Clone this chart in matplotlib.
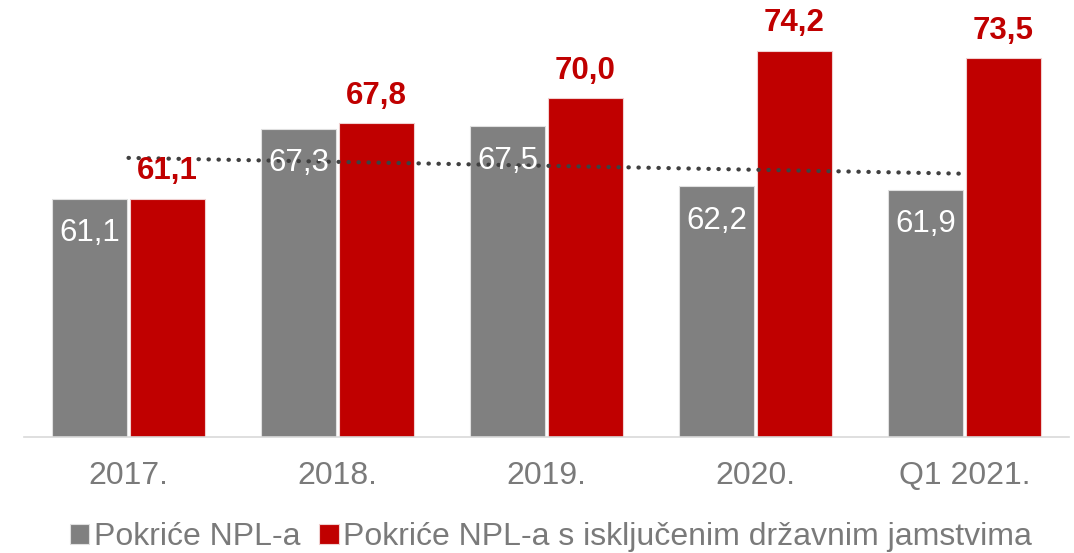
import numpy as np
import matplotlib.pyplot as plt

plt.rcParams['font.family'] = ['Liberation Sans', 'DejaVu Sans']

categories = ["2017.", "2018.", "2019.", "2020.", "Q1 2021."]
pokrice_npl = [61.1, 67.3, 67.5, 62.2, 61.9]
pokrice_bez_jamstva = [61.1, 67.8, 70.0, 74.2, 73.5]
labels = ["Pokriće NPL-a", "Pokriće NPL-a s isključenim državnim jamstvima"]

GRAY = "#808080"
RED = "#C00000"
TEXT = "#7a7a7a"

fig = plt.figure(figsize=(10.74, 5.53), dpi=100)
ax = fig.add_axes([24 / 1074, 1 - 437 / 553, 1045 / 1074, 437 / 553])

x = np.arange(len(categories))
w = 0.36
b1 = ax.bar(x - w / 2 - 0.005, pokrice_npl, w, color=GRAY, edgecolor="#e0e0e0", linewidth=0.8, label=labels[0])
b2 = ax.bar(x + w / 2 + 0.005, pokrice_bez_jamstva, w, color=RED, edgecolor="#f0d0d0", linewidth=0.8, label=labels[1])

# linear trend of the first series
k, n = np.polyfit(x, pokrice_npl, 1)
ax.plot(x, k * x + n, color="#404040", lw=3, linestyle=(0, (0.1, 2.3)),
        dash_capstyle="round", zorder=3)

for xi, v in zip(x, pokrice_npl):
    ax.annotate(f"{v:.1f}".replace(".", ","), (xi - w / 2 - 0.005, v), xytext=(0, -25),
                textcoords="offset points", ha="center", va="center",
                color="white", fontsize=22.5, zorder=4)
for xi, v in zip(x, pokrice_bez_jamstva):
    ax.annotate(f"{v:.1f}".replace(".", ","), (xi + w / 2 + 0.005, v), xytext=(0, 19.5),
                textcoords="offset points", ha="center", va="center",
                color=RED, fontsize=22.5, fontweight="bold", zorder=4)

ax.set_xlim(-0.5, len(categories) - 0.5)
ax.set_ylim(40, 40 + 437 / 11.3)
ax.set_xticks(x)
ax.set_xticklabels(categories, fontsize=23, color=TEXT)
ax.tick_params(axis="x", length=0, pad=17)
ax.set_yticks([])
for s in ["top", "right", "left"]:
    ax.spines[s].set_visible(False)
ax.spines["bottom"].set_color("#d9d9d9")
ax.spines["bottom"].set_linewidth(1.2)

fig.legend(handles=[b1, b2], labels=labels, loc="center", bbox_to_anchor=(0.513, 16 / 553),
           ncol=2, frameon=False, fontsize=23, labelcolor=TEXT,
           handlelength=0.6, handleheight=0.6, handletextpad=0.15, columnspacing=0.6)

fig.savefig("out.png", dpi=100)
